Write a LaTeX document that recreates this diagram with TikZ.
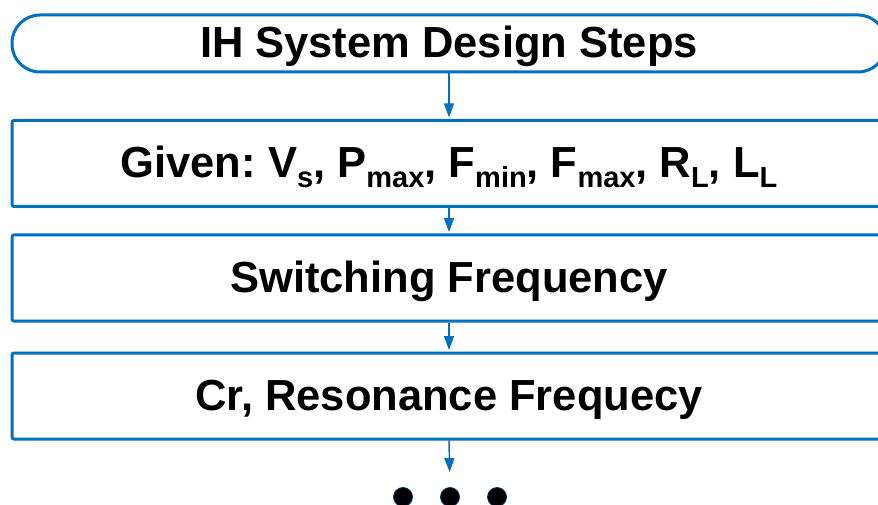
\documentclass[tikz,border=0pt]{standalone}
\usepackage{fontspec}
\setmainfont{Liberation Sans}
\usetikzlibrary{arrows.meta}
\definecolor{ihblue}{HTML}{0070C0}
\newcommand\ihsub[1]{\raisebox{-0.22em}{\fontsize{29}{30}\selectfont #1}}
\frenchspacing
\begin{document}
\begin{tikzpicture}[x=1pt,y=-1pt,
  every node/.style={font=\fontsize{43.5}{50}\selectfont\bfseries\frenchspacing, text=black},
  termbox/.style={draw=ihblue, line width=3pt, rounded corners=28pt, minimum width=874pt, minimum height=57pt, inner sep=0pt, text height=29pt, text depth=0pt},
  stepbox/.style={draw=ihblue, line width=3pt, rounded corners=2pt, minimum width=874pt, minimum height=86pt, inner sep=0pt, text height=29pt, text depth=0pt},
  flow/.style={draw=ihblue, line width=1.5pt, -{Triangle[length=14pt,width=10pt]}},
  dotnode/.style={circle, fill=black, draw=ihblue!50!black, line width=0.8pt, minimum size=19pt, inner sep=0pt}]
\useasboundingbox (0,0) rectangle (878,505);
\node[termbox] (t) at (449,43.5) {IH System Design Steps};
\node[stepbox] (b1) at (449,163.5) {Given: V\ihsub{s}, P\ihsub{max}, F\ihsub{min}, F\ihsub{max}, R\ihsub{L}, L\ihsub{L}};
\node[stepbox] (b2) at (449,278) {Switching Frequency};
\node[stepbox] (b3) at (449,396) {Cr, Resonance Frequecy};
\node[dotnode] (d1) at (403,497) {};
\node[dotnode] (d2) at (450,497) {};
\node[dotnode] (d3) at (497,497) {};
\draw[flow, shorten >=1.5pt] (t.south) -- (b1.north);
\draw[flow, shorten >=1.5pt] (b1.south) -- (b2.north);
\draw[flow, shorten >=1.5pt] (b2.south) -- (b3.north);
\draw[flow, shorten >=15pt] (b3.south) -- (d2.north);
\end{tikzpicture}
\end{document}
